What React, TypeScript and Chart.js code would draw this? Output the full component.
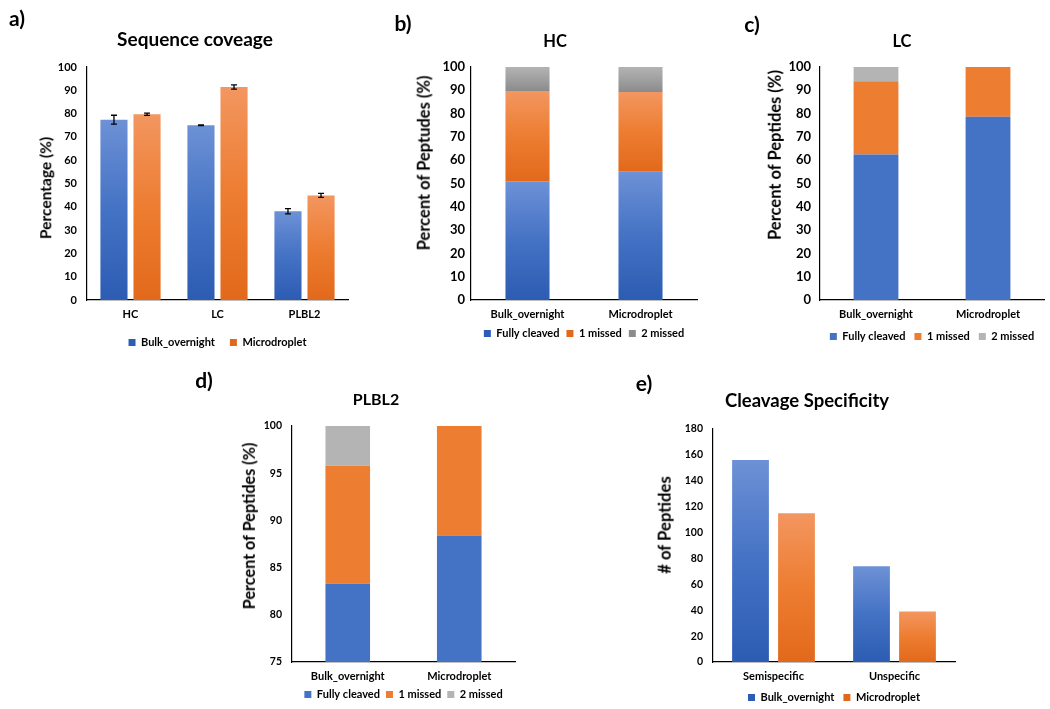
import React, { useEffect, useRef } from "react";
import { Chart, registerables } from "chart.js";

Chart.register(...registerables);

const FONT = "Lato, 'Open Sans', sans-serif";

// ---------- Data ----------
// a) Sequence coverage
const coverageCategories = ["HC", "LC", "PLBL2"];
const coverageBulk = [77.4, 75.0, 38.1];
const coverageBulkErr = [1.9, 0.15, 1.1];
const coverageMicro = [79.7, 91.4, 44.9];
const coverageMicroErr = [0.5, 0.9, 0.85];

// b) HC, c) LC, d) PLBL2 missed cleavages
const methodCategories = ["Bulk_overnight", "Microdroplet"];
const hcFully = [51.0, 55.0];
const hcOneMissed = [38.7, 34.3];
const hcTwoMissed = [10.3, 10.7];

const lcFully = [62.4, 78.6];
const lcOneMissed = [31.5, 21.4];
const lcTwoMissed = [6.1, 0];

const plblFully = [83.3, 88.4];
const plblOneMissed = [12.5, 11.6];
const plblTwoMissed = [4.2, 0];

// e) Cleavage specificity
const specificityCategories = ["Semispecific", "Unspecific"];
const specBulk = [156, 74];
const specMicro = [115, 39];

const seriesMethods = ["Bulk_overnight", "Microdroplet"];
const seriesMissed = ["Fully cleaved", "1 missed", "2 missed"];

// ---------- Styles ----------
const BLUE = ["#6d91d6", "#4472c4", "#2c5cb3"];
const ORANGE = ["#f39660", "#ed7d31", "#e2691b"];
const GRAY = ["#b3b3b3", "#a0a0a0", "#8b8b8b"];
const FLAT_BLUE = "#4472c4";
const FLAT_ORANGE = "#ed7d31";
const FLAT_GRAY = "#b4b4b4";

function gradientFill(stops: string[], stacked: boolean) {
  return (c: any) => {
    if (c.type !== "data") return stops[1];
    const chart = c.chart;
    const y = chart.scales && chart.scales.y;
    if (!chart.chartArea || !y) return stops[1];
    let start = 0;
    if (stacked) {
      for (let k = 0; k < c.datasetIndex; k++) {
        start += Number(chart.data.datasets[k].data[c.dataIndex]) || 0;
      }
    }
    const end = start + Number(c.raw);
    const top = y.getPixelForValue(end);
    const bottom = y.getPixelForValue(start);
    if (!isFinite(top) || !isFinite(bottom) || Math.abs(bottom - top) < 1) return stops[1];
    const g = chart.ctx.createLinearGradient(0, top, 0, bottom);
    g.addColorStop(0, stops[0]);
    g.addColorStop(0.5, stops[1]);
    g.addColorStop(1, stops[2]);
    return g;
  };
}

const errorBarPlugin = {
  id: "errorBars",
  afterDatasetsDraw(chart: any) {
    const y = chart.scales.y;
    const ctx = chart.ctx;
    chart.data.datasets.forEach((ds: any, di: number) => {
      if (!ds.errors) return;
      const meta = chart.getDatasetMeta(di);
      meta.data.forEach((bar: any, i: number) => {
        const v = Number(ds.data[i]);
        const e = Number(ds.errors[i]);
        const yt = y.getPixelForValue(v + e);
        const yb = y.getPixelForValue(v - e);
        const x = bar.x;
        ctx.save();
        ctx.strokeStyle = "#000";
        ctx.lineWidth = 1.3;
        ctx.beginPath();
        ctx.moveTo(x, yt);
        ctx.lineTo(x, yb);
        ctx.moveTo(x - 3, yt);
        ctx.lineTo(x + 3, yt);
        ctx.moveTo(x - 3, yb);
        ctx.lineTo(x + 3, yb);
        ctx.stroke();
        ctx.restore();
      });
    });
  },
};

type PanelSpec = {
  yMin: number;
  yMax: number;
  step: number;
  yWidth: number;
  yTickSize: number;
  yTickPad: number;
  xHeight: number;
  legendPad: number;
  padTop: number;
  padRight: number;
  stacked: boolean;
  catPct: number;
  barPct: number;
};

function makeOptions(p: PanelSpec) {
  const tickFont = (size: number) => ({ family: FONT, weight: "bold" as const, size });
  return {
    responsive: false,
    animation: false as const,
    layout: { padding: { top: p.padTop, right: p.padRight, left: 0, bottom: 0 } },
    datasets: { bar: { categoryPercentage: p.catPct, barPercentage: p.barPct, borderWidth: 0 } },
    plugins: {
      tooltip: { enabled: false },
      title: { display: false },
      legend: {
        position: "bottom" as const,
        fullSize: false,
        labels: {
          boxWidth: 7,
          boxHeight: 7,
          padding: p.legendPad,
          color: "#000",
          font: tickFont(11),
        },
      },
    },
    scales: {
      x: {
        stacked: p.stacked,
        grid: { display: false, drawTicks: false },
        border: { display: true, color: "#000", width: 1.2 },
        ticks: { color: "#000", font: tickFont(11), padding: 8, maxRotation: 0, autoSkip: false },
        afterFit: (s: any) => {
          s.height = p.xHeight;
        },
      },
      y: {
        stacked: p.stacked,
        min: p.yMin,
        max: p.yMax,
        grid: { display: false, drawTicks: false },
        border: { display: true, color: "#000", width: 1.2 },
        ticks: { stepSize: p.step, color: "#000", font: tickFont(p.yTickSize), padding: p.yTickPad },
        afterFit: (s: any) => {
          s.width = p.yWidth;
        },
      },
    },
  };
}

function ChartCanvas({ left, top, width, height, config }: any) {
  const ref = useRef<HTMLCanvasElement>(null);
  useEffect(() => {
    const chart = new Chart(ref.current as HTMLCanvasElement, config);
    return () => chart.destroy();
  }, []);
  return (
    <canvas
      ref={ref}
      width={width}
      height={height}
      style={{ position: "absolute", left, top, width, height }}
    />
  );
}

function Txt({ text, x, y, size, rotate }: any) {
  return (
    <div
      style={{
        position: "absolute",
        left: x,
        top: y,
        transform: `translate(-50%, -50%)${rotate ? " rotate(-90deg)" : ""}`,
        fontFamily: FONT,
        fontWeight: 700,
        fontSize: size,
        lineHeight: 1,
        whiteSpace: "nowrap",
        color: "#000",
      }}
    >
      {text}
    </div>
  );
}

export default function App() {
  const configA: any = {
    type: "bar",
    data: {
      labels: coverageCategories,
      datasets: [
        { label: seriesMethods[0], data: coverageBulk, errors: coverageBulkErr, backgroundColor: gradientFill(BLUE, false) },
        { label: seriesMethods[1], data: coverageMicro, errors: coverageMicroErr, backgroundColor: gradientFill(ORANGE, false) },
      ],
    },
    options: makeOptions({ yMin: 0, yMax: 100, step: 10, yWidth: 87, yTickSize: 11, yTickPad: 10, xHeight: 22, legendPad: 15, padTop: 67, padRight: 4, stacked: false, catPct: 0.76, barPct: 0.82 }),
    plugins: [errorBarPlugin],
  };

  const configB: any = {
    type: "bar",
    data: {
      labels: methodCategories,
      datasets: [
        { label: seriesMissed[0], data: hcFully, backgroundColor: gradientFill(BLUE, true) },
        { label: seriesMissed[1], data: hcOneMissed, backgroundColor: gradientFill(ORANGE, true) },
        { label: seriesMissed[2], data: hcTwoMissed, backgroundColor: gradientFill(GRAY, true) },
      ],
    },
    options: makeOptions({ yMin: 0, yMax: 100, step: 10, yWidth: 119, yTickSize: 13, yTickPad: 6, xHeight: 21, legendPad: 7, padTop: 67, padRight: 3, stacked: true, catPct: 0.78, barPct: 0.5 }),
  };

  const configC: any = {
    type: "bar",
    data: {
      labels: methodCategories,
      datasets: [
        { label: seriesMissed[0], data: lcFully, backgroundColor: FLAT_BLUE },
        { label: seriesMissed[1], data: lcOneMissed, backgroundColor: FLAT_ORANGE },
        { label: seriesMissed[2], data: lcTwoMissed, backgroundColor: FLAT_GRAY },
      ],
    },
    options: makeOptions({ yMin: 0, yMax: 100, step: 10, yWidth: 120, yTickSize: 13, yTickPad: 9, xHeight: 22, legendPad: 9, padTop: 67, padRight: 6, stacked: true, catPct: 0.8, barPct: 0.5 }),
  };

  const configD: any = {
    type: "bar",
    data: {
      labels: methodCategories,
      datasets: [
        { label: seriesMissed[0], data: plblFully, backgroundColor: FLAT_BLUE },
        { label: seriesMissed[1], data: plblOneMissed, backgroundColor: FLAT_ORANGE },
        { label: seriesMissed[2], data: plblTwoMissed, backgroundColor: FLAT_GRAY },
      ],
    },
    options: makeOptions({ yMin: 75, yMax: 100, step: 5, yWidth: 92, yTickSize: 10.5, yTickPad: 10, xHeight: 21, legendPad: 6, padTop: 66, padRight: 5, stacked: true, catPct: 0.8, barPct: 0.5 }),
  };

  const configE: any = {
    type: "bar",
    data: {
      labels: specificityCategories,
      datasets: [
        { label: seriesMethods[0], data: specBulk, backgroundColor: gradientFill(BLUE, false) },
        { label: seriesMethods[1], data: specMicro, backgroundColor: gradientFill(ORANGE, false) },
      ],
    },
    options: makeOptions({ yMin: 0, yMax: 180, step: 20, yWidth: 113, yTickSize: 10.5, yTickPad: 10, xHeight: 21, legendPad: 9, padTop: 69, padRight: 5, stacked: false, catPct: 0.76, barPct: 0.8 }),
  };

  return (
    <div
      style={{
        position: "absolute",
        left: 0,
        top: 0,
        width: 1050,
        height: 709,
        overflow: "hidden",
        background: "#fff",
      }}
    >
      <ChartCanvas left={0} top={0} width={352} height={358} config={configA} />
      <ChartCanvas left={352} top={0} width={348} height={349} config={configB} />
      <ChartCanvas left={700} top={0} width={350} height={352} config={configC} />
      <ChartCanvas left={200} top={360} width={320} height={350} config={configD} />
      <ChartCanvas left={600} top={360} width={360} height={353} config={configE} />

      <Txt text="a)" x={17} y={17} size={21} />
      <Txt text="b)" x={403} y={22} size={21} />
      <Txt text="c)" x={752} y={23} size={21} />
      <Txt text="d)" x={204} y={379} size={21} />
      <Txt text="e)" x={644} y={382} size={21} />

      <Txt text="Sequence coveage" x={195} y={38} size={19} />
      <Txt text="HC" x={555} y={41} size={16.5} />
      <Txt text="LC" x={902} y={41} size={16.5} />
      <Txt text="PLBL2" x={376} y={399} size={16} />
      <Txt text="Cleavage Specificity" x={807} y={400} size={18.5} />

      <Txt text="Percentage (%)" x={46} y={188} size={15.5} rotate />
      <Txt text="Percent of Peptudes (%)" x={424} y={163} size={16.5} rotate />
      <Txt text="Percent of Peptides (%)" x={775} y={155} size={16.5} rotate />
      <Txt text="Percent of Peptides (%)" x={249} y={526} size={16.2} rotate />
      <Txt text="# of Peptides" x={665} y={525} size={16.7} rotate />
    </div>
  );
}
